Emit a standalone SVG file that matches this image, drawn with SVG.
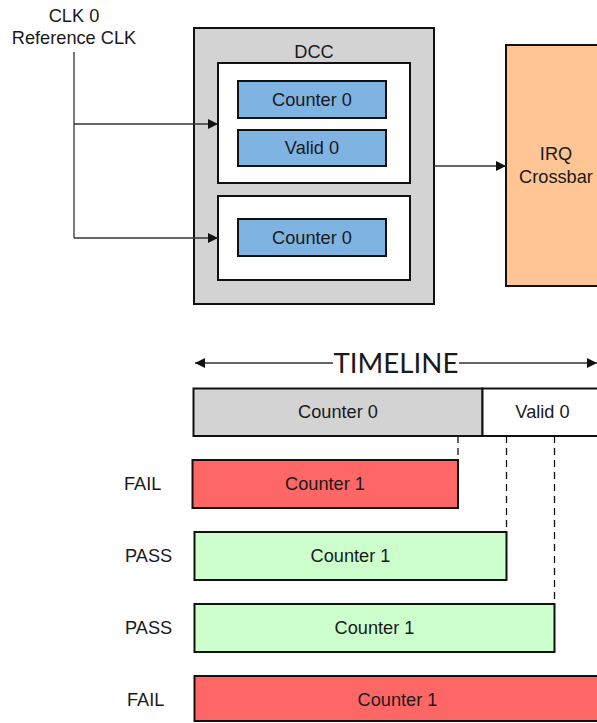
<svg xmlns="http://www.w3.org/2000/svg" width="597" height="723" viewBox="0 0 597 723">
  <style>
    text { font-family: "Liberation Sans", Arial, sans-serif; font-size: 18.2px; fill: #1a1a1a; }
    .c { text-anchor: middle; }
    .box { stroke: #111; stroke-width: 2; }
    .wire { stroke: #333; stroke-width: 1.3; fill: none; }
    .dash { stroke: #111; stroke-width: 1.3; stroke-dasharray: 7 5; fill: none; }
    .blue { fill: #7fb3e2; }
    .gray { fill: #d3d3d3; }
    .red { fill: #ff6666; }
    .green { fill: #ccffcc; }
    .peach { fill: #ffc594; }
    .white { fill: #ffffff; }
    .tl { font-family: Lato, "Open Sans", sans-serif; font-size: 26px; }
  </style>
  <defs>
    <marker id="arrow" viewBox="0 0 10 10" refX="10" refY="5" markerWidth="10" markerHeight="10" markerUnits="userSpaceOnUse" orient="auto-start-reverse">
      <path d="M0,0 L10,5 L0,10 Z" fill="#111"/>
    </marker>
  </defs>

  <!-- clock source label -->
  <g id="clk-source">
    <text class="c" x="74" y="22">CLK 0</text>
    <text class="c" x="74" y="44">Reference CLK</text>
  </g>

  <!-- DCC block with its two counter groups -->
  <g id="dcc">
    <rect class="box gray" x="194" y="28" width="240" height="276"/>
    <text class="c" x="314" y="58">DCC</text>
  </g>
  <g id="dcc-group0">
    <rect class="box white" x="218" y="63" width="192" height="120"/>
  </g>
  <g id="counter0-a">
    <rect class="box blue" x="238" y="81" width="148" height="37"/>
    <text class="c" x="312" y="105.5">Counter 0</text>
  </g>
  <g id="valid0">
    <rect class="box blue" x="238" y="130" width="148" height="36"/>
    <text class="c" x="312" y="154">Valid 0</text>
  </g>
  <g id="dcc-group1">
    <rect class="box white" x="218" y="196" width="192" height="84"/>
  </g>
  <g id="counter0-b">
    <rect class="box blue" x="238" y="219" width="148" height="37"/>
    <text class="c" x="312" y="243.5">Counter 0</text>
  </g>

  <!-- interrupt crossbar -->
  <g id="irq-crossbar">
    <rect class="box peach" x="506" y="45" width="100" height="241"/>
    <text class="c" x="556" y="160">IRQ</text>
    <text class="c" x="556" y="183">Crossbar</text>
  </g>

  <!-- connectors -->
  <g id="connectors">
    <path class="wire" d="M74,52 V238"/>
    <path class="wire" d="M74,124 H218" marker-end="url(#arrow)"/>
    <path class="wire" d="M74,238 H218" marker-end="url(#arrow)"/>
    <path class="wire" d="M434,166 H506" marker-end="url(#arrow)"/>
    <path class="wire" d="M333,363 H195" marker-end="url(#arrow)"/>
    <path class="wire" d="M459,363 H597" marker-end="url(#arrow)"/>
    <path class="dash" d="M458,436 V460"/>
    <path class="dash" d="M506.5,436 V532"/>
    <path class="dash" d="M554.5,436 V604"/>
  </g>

  <!-- timeline -->
  <g id="timeline-label">
    <text class="tl c" x="396" y="373" textLength="125" lengthAdjust="spacingAndGlyphs">TIMELINE</text>
  </g>
  <g id="timeline-counter0">
    <rect class="box gray" x="193.5" y="388.5" width="289" height="47.5"/>
    <text class="c" x="338" y="418">Counter 0</text>
  </g>
  <g id="timeline-valid0">
    <rect class="box white" x="482.5" y="388.5" width="121" height="47.5"/>
    <text class="c" x="542.5" y="418">Valid 0</text>
  </g>

  <!-- outcomes -->
  <g id="case1">
    <text x="124" y="490">FAIL</text>
    <rect class="box red" x="192.5" y="460" width="265.5" height="48"/>
    <text class="c" x="325" y="490">Counter 1</text>
  </g>
  <g id="case2">
    <text x="125" y="562">PASS</text>
    <rect class="box green" x="194.5" y="532" width="312" height="48"/>
    <text class="c" x="350.5" y="562">Counter 1</text>
  </g>
  <g id="case3">
    <text x="125" y="634">PASS</text>
    <rect class="box green" x="194.5" y="604" width="360" height="48"/>
    <text class="c" x="374.5" y="634">Counter 1</text>
  </g>
  <g id="case4">
    <text x="127" y="706">FAIL</text>
    <rect class="box red" x="194.5" y="676" width="410" height="45"/>
    <text class="c" x="397.5" y="706">Counter 1</text>
  </g>
</svg>
